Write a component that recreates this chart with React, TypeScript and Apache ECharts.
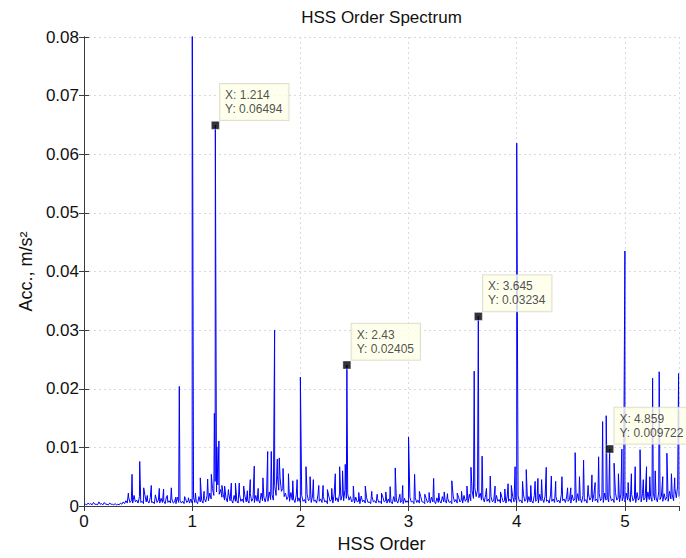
import React, { useEffect, useRef } from "react";
import * as echarts from "echarts";

// Noise floor of the order spectrum: upper samples every 0.025 orders from 0.0125,
// and lower samples in between (every 0.025 orders from 0.025)
const floorStep = 0.025;
const floorHighStart = 0.0125;
const floorHighAmps = [
  0.0003, 0.0005, 0.0004, 0.0006, 0.0003, 0.0007, 0.0004, 0.0006, 0.0003, 0.0005,
  0.0003, 0.0004, 0.0003, 0.0005, 0.0007, 0.0009, 0.0015, 0.0009, 0.0018, 0.001,
  0.0016, 0.0008, 0.0019, 0.0009, 0.0014, 0.0007, 0.0017, 0.001, 0.0013, 0.0008,
  0.0016, 0.0009, 0.0012, 0.0007, 0.0015, 0.001, 0.0008, 0.0013, 0.0009, 0.0012,
  0.0014, 0.0008, 0.0016, 0.001, 0.0013, 0.0018, 0.0022, 0.003, 0.0042, 0.0036,
  0.0028, 0.0019, 0.0014, 0.0022, 0.0011, 0.0018, 0.0009, 0.002, 0.0012, 0.0017,
  0.001, 0.0021, 0.0013, 0.0018, 0.0011, 0.0022, 0.0015, 0.0019, 0.0024, 0.002,
  0.0035, 0.0052, 0.0048, 0.003, 0.0022, 0.0016, 0.0023, 0.0012, 0.0019, 0.0014,
  0.0018, 0.0011, 0.002, 0.0013, 0.0017, 0.001, 0.0019, 0.0012, 0.0016, 0.0009,
  0.0017, 0.0011, 0.002, 0.0014, 0.0022, 0.0019, 0.0028, 0.0021, 0.0016, 0.001,
  0.0015, 0.0008, 0.0017, 0.001, 0.0014, 0.0007, 0.0016, 0.0009, 0.0013, 0.0008,
  0.0015, 0.0009, 0.0012, 0.0007, 0.0016, 0.001, 0.0014, 0.0008, 0.0013, 0.0009,
  0.0015, 0.0008, 0.0014, 0.001, 0.0016, 0.0007, 0.0013, 0.0009, 0.0015, 0.0008,
  0.0014, 0.0009, 0.0016, 0.001, 0.0013, 0.0008, 0.0017, 0.0011, 0.0015, 0.001,
  0.0018, 0.0012, 0.002, 0.0026, 0.0031, 0.0027, 0.0022, 0.0015, 0.0019, 0.0012,
  0.0016, 0.001, 0.0018, 0.0011, 0.0015, 0.0009, 0.0017, 0.0012, 0.0016, 0.0014,
  0.0017, 0.001, 0.0019, 0.0012, 0.0016, 0.0009, 0.0018, 0.0011, 0.002, 0.0013,
  0.0017, 0.001, 0.0019, 0.0012, 0.0016, 0.001, 0.002, 0.0012, 0.0017, 0.0011,
  0.0019, 0.0012, 0.0021, 0.0013, 0.0018, 0.0011, 0.0022, 0.0014, 0.0019, 0.0012,
  0.0021, 0.0013, 0.0022, 0.0015, 0.0019, 0.0012, 0.0023, 0.0014, 0.002, 0.0016,
  0.0022, 0.0014, 0.002, 0.0013, 0.0023, 0.0015, 0.0021, 0.0014, 0.0024, 0.0016,
  0.0022, 0.0015, 0.0024, 0.0017, 0.0021, 0.0016, 0.0025, 0.0019, 0.003, 0.0034,
];
const floorLowStart = 0.025;
const floorLowAmps = [
  0.0002, 0.0003, 0.0002, 0.0003, 0.0002, 0.0003, 0.0002, 0.0003, 0.0002, 0.0003,
  0.0002, 0.0002, 0.0002, 0.0003, 0.0004, 0.0005, 0.0006, 0.0005, 0.0007, 0.0005,
  0.0006, 0.0004, 0.0007, 0.0005, 0.0006, 0.0004, 0.0006, 0.0005, 0.0006, 0.0004,
  0.0006, 0.0005, 0.0005, 0.0004, 0.0006, 0.0005, 0.0004, 0.0006, 0.0005, 0.0005,
  0.0006, 0.0004, 0.0007, 0.0005, 0.0007, 0.0009, 0.0012, 0.0018, 0.0024, 0.0020,
  0.0015, 0.0010, 0.0007, 0.0009, 0.0005, 0.0008, 0.0005, 0.0008, 0.0006, 0.0007,
  0.0005, 0.0008, 0.0006, 0.0008, 0.0005, 0.0009, 0.0007, 0.0008, 0.0011, 0.0010,
  0.0018, 0.0027, 0.0025, 0.0016, 0.0011, 0.0008, 0.0010, 0.0006, 0.0008, 0.0006,
  0.0008, 0.0005, 0.0009, 0.0006, 0.0008, 0.0005, 0.0008, 0.0006, 0.0007, 0.0004,
  0.0008, 0.0005, 0.0009, 0.0007, 0.0010, 0.0009, 0.0013, 0.0010, 0.0007, 0.0005,
  0.0007, 0.0004, 0.0007, 0.0005, 0.0006, 0.0004, 0.0007, 0.0005, 0.0006, 0.0004,
  0.0007, 0.0005, 0.0006, 0.0004, 0.0007, 0.0005, 0.0006, 0.0004, 0.0006, 0.0005,
  0.0007, 0.0004, 0.0006, 0.0005, 0.0007, 0.0004, 0.0006, 0.0005, 0.0007, 0.0004,
  0.0006, 0.0005, 0.0007, 0.0005, 0.0006, 0.0004, 0.0007, 0.0005, 0.0007, 0.0005,
  0.0008, 0.0006, 0.0009, 0.0013, 0.0016, 0.0014, 0.0010, 0.0007, 0.0008, 0.0006,
  0.0007, 0.0005, 0.0008, 0.0005, 0.0007, 0.0005, 0.0008, 0.0006, 0.0007, 0.0006,
  0.0008, 0.0005, 0.0008, 0.0006, 0.0007, 0.0005, 0.0008, 0.0005, 0.0009, 0.0006,
  0.0008, 0.0005, 0.0008, 0.0006, 0.0007, 0.0005, 0.0009, 0.0006, 0.0008, 0.0005,
  0.0009, 0.0006, 0.0009, 0.0006, 0.0008, 0.0005, 0.0010, 0.0007, 0.0009, 0.0006,
  0.0009, 0.0006, 0.0010, 0.0007, 0.0009, 0.0006, 0.0010, 0.0007, 0.0009, 0.0007,
  0.0010, 0.0007, 0.0009, 0.0006, 0.0010, 0.0007, 0.0010, 0.0007, 0.0011, 0.0008,
  0.0010, 0.0007, 0.0011, 0.0008, 0.0010, 0.0008, 0.0012, 0.0009, 0.0014, 0.0016,
];

// Discrete order peaks (order, amplitude in m/s^2)
const peakOrders = [
  0.41, 0.444, 0.515, 0.552, 0.585, 0.622, 0.66, 0.696, 0.736, 0.77, 0.807, 0.848, 0.881, 0.93, 0.965,
  1.0, 1.03, 1.075, 1.11, 1.143, 1.177, 1.205, 1.228, 1.247, 1.275, 1.3, 1.335, 1.362, 1.4, 1.435,
  1.476, 1.51, 1.537, 1.574, 1.61, 1.654, 1.698, 1.731, 1.762, 1.787, 1.805, 1.84, 1.89, 1.93, 1.97,
  2.0, 2.052, 2.09, 2.12, 2.17, 2.21, 2.25, 2.29, 2.323, 2.363, 2.39, 2.415, 2.49, 2.54, 2.6,
  2.66, 2.71, 2.75, 2.79, 2.83, 2.877, 2.92, 2.946, 3.0, 3.056, 3.1, 3.15, 3.19, 3.232, 3.28,
  3.33, 3.36, 3.4, 3.45, 3.49, 3.54, 3.577, 3.607, 3.68, 3.72, 3.755, 3.8, 3.85, 3.89, 3.92,
  3.95, 3.985, 4.0, 4.054, 4.088, 4.13, 4.17, 4.196, 4.23, 4.273, 4.32, 4.36, 4.418, 4.47, 4.5,
  4.54, 4.58, 4.618, 4.66, 4.695, 4.725, 4.757, 4.794, 4.827, 4.9, 4.94, 4.972, 5.0, 5.03, 5.06,
  5.095, 5.14, 5.17, 5.2, 5.23, 5.256, 5.28, 5.317, 5.35, 5.388, 5.43, 5.46, 5.496,
];
const peakAmps = [
  0.0022, 0.0054, 0.0076, 0.0031, 0.0018, 0.0035, 0.0019, 0.003, 0.0029, 0.0018, 0.0031, 0.0015, 0.0204, 0.0016, 0.0014,
  0.095, 0.0022, 0.0048, 0.0025, 0.0046, 0.0054, 0.0158, 0.0101, 0.0111, 0.0035, 0.0034, 0.0028, 0.0039, 0.0039, 0.0039,
  0.0034, 0.0026, 0.0045, 0.0068, 0.003, 0.0048, 0.0093, 0.0093, 0.03, 0.008, 0.0082, 0.0064, 0.0055, 0.0043, 0.0045,
  0.022, 0.0067, 0.005, 0.0045, 0.0035, 0.0035, 0.0028, 0.003, 0.0055, 0.0067, 0.006, 0.0071, 0.0034, 0.0023, 0.0034,
  0.0025, 0.002, 0.0022, 0.0024, 0.0033, 0.0065, 0.002, 0.0035, 0.0118, 0.0054, 0.0025, 0.002, 0.0023, 0.0047, 0.0022,
  0.0024, 0.0021, 0.0043, 0.0022, 0.0025, 0.0034, 0.0066, 0.023, 0.0085, 0.003, 0.0051, 0.0034, 0.0024, 0.0029, 0.0038,
  0.0035, 0.0067, 0.0619, 0.0042, 0.0062, 0.0035, 0.0042, 0.0047, 0.0045, 0.0066, 0.0051, 0.0042, 0.005, 0.0031, 0.0031,
  0.0091, 0.005, 0.0078, 0.0035, 0.0053, 0.004, 0.0084, 0.0144, 0.0154, 0.0073, 0.0055, 0.0097, 0.0435, 0.004, 0.0055,
  0.0067, 0.0096, 0.0045, 0.0067, 0.005, 0.0218, 0.006, 0.0229, 0.005, 0.009, 0.0055, 0.0048, 0.0226,
];

// Data-cursor points
const tipOrders = [1.214, 2.43, 3.645, 4.859];
const tipAmps = [0.06494, 0.02405, 0.03234, 0.009722];

const xTicks = [0, 1, 2, 3, 4, 5];
const yTicks = [0, 0.01, 0.02, 0.03, 0.04, 0.05, 0.06, 0.07, 0.08];

function buildSpectrum(): number[][] {
  const pts: number[][] = [[0, 0.0003]];
  floorHighAmps.forEach((a, i) => pts.push([floorHighStart + i * floorStep, a]));
  floorLowAmps.forEach((a, i) => pts.push([floorLowStart + i * floorStep, a]));
  peakOrders.forEach((o, i) => pts.push([o, peakAmps[i]]));
  tipOrders.forEach((o, i) => pts.push([o, tipAmps[i]]));
  pts.sort((a, b) => a[0] - b[0]);
  return pts;
}

const FONT = "Liberation Sans, Arial, Helvetica, sans-serif";
const GRID = { left: 84, right: 7, top: 37, bottom: 52 };

export default function App() {
  const ref = useRef<HTMLDivElement>(null);

  useEffect(() => {
    document.body.style.margin = "0";
    if (!ref.current) return;
    const chart = echarts.init(ref.current, undefined, { renderer: "svg" });

    const axisLine = { show: true, lineStyle: { color: "#3c3c3c", width: 1 } };
    const tick = { show: true, inside: true, length: 5, lineStyle: { color: "#3c3c3c" } };
    const split = { show: true, lineStyle: { color: "#d9d9d9", type: [2, 3] as any, width: 1 } };
    const labelStyle = { fontFamily: FONT, fontSize: 17, color: "#111" };

    const option: echarts.EChartsOption = {
      animation: false,
      backgroundColor: "#ffffff",
      grid: GRID,
      graphic: [
        {
          type: "text",
          x: GRID.left + (686 - GRID.left - GRID.right) / 2,
          y: 17,
          style: {
            text: "HSS Order Spectrum",
            font: `17px ${FONT}`,
            fill: "#111",
            textAlign: "center",
            textVerticalAlign: "middle",
          } as any,
        },
      ],
      xAxis: [
        {
          type: "value",
          position: "bottom",
          min: 0,
          max: 5.5,
          interval: 1,
          axisLine,
          axisTick: tick,
          splitLine: split,
          axisLabel: {
            ...labelStyle,
            margin: 7,
            showMaxLabel: false,
            formatter: (v: number) => (xTicks.includes(v) ? String(v) : ""),
          },
          name: "HSS Order",
          nameLocation: "middle",
          nameGap: 29,
          nameTextStyle: { fontFamily: FONT, fontSize: 18, color: "#111" },
        },
        {
          type: "value",
          position: "top",
          min: 0,
          max: 5.5,
          interval: 1,
          axisLine,
          axisTick: tick,
          splitLine: { show: false },
          axisLabel: { show: false },
        },
      ],
      yAxis: [
        {
          type: "value",
          position: "left",
          min: 0,
          max: 0.08,
          interval: 0.01,
          axisLine,
          axisTick: tick,
          splitLine: split,
          axisLabel: {
            ...labelStyle,
            margin: 5,
            formatter: (v: number) => {
              const t = yTicks.find((y) => Math.abs(y - v) < 1e-9);
              if (t === undefined) return "";
              return t === 0 ? "0" : t.toFixed(2);
            },
          },
          name: "Acc., m/s²",
          nameLocation: "middle",
          nameGap: 45,
          nameTextStyle: { fontFamily: FONT, fontSize: 18, color: "#111" },
        },
        {
          type: "value",
          position: "right",
          min: 0,
          max: 0.08,
          interval: 0.01,
          axisLine,
          axisTick: tick,
          splitLine: { show: false },
          axisLabel: { show: false },
        },
      ],
      series: [
        {
          type: "line",
          data: buildSpectrum(),
          showSymbol: false,
          symbol: "none",
          clip: true,
          lineStyle: { color: "#0000ff", width: 1 },
          z: 2,
        },
        {
          type: "scatter",
          data: tipOrders.map((o, i) => [o, tipAmps[i]]),
          symbol: "rect",
          symbolSize: 8,
          clip: false,
          itemStyle: { color: "#000", borderColor: "#ffffff", borderWidth: 0.5 },
          z: 5,
          label: {
            show: true,
            position: [9, -37],
            formatter: (p: any) => `X: ${tipOrders[p.dataIndex]}\nY: ${tipAmps[p.dataIndex]}`,
            fontFamily: FONT,
            fontSize: 12,
            lineHeight: 14,
            color: "#222",
            backgroundColor: "#ffffe8",
            borderColor: "#d8d8c4",
            borderWidth: 1,
            padding: [4, 6, 4, 5],
          },
        },
      ],
    };

    chart.setOption(option);
    return () => chart.dispose();
  }, []);

  return <div ref={ref} style={{ width: 686, height: 558 }} />;
}
